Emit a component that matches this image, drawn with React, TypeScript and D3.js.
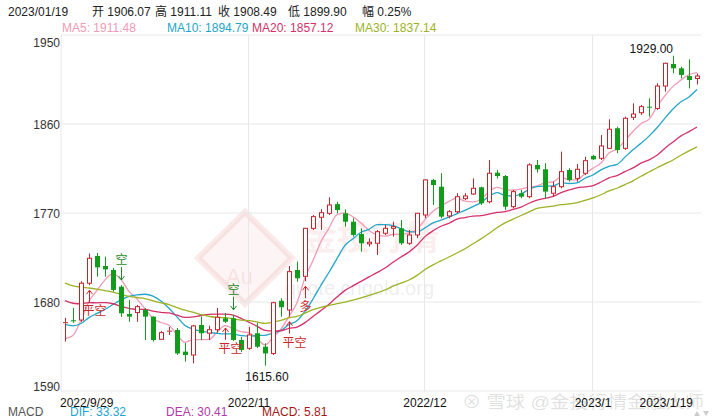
import React from "react";
import * as d3 from "d3";

// ---------- data ----------
// closes before 2022/9/29 (needed for moving averages)
const priorCloses = [
  1747, 1736, 1748, 1751, 1758, 1737, 1738, 1723, 1711,
  1697, 1712, 1710, 1702, 1718, 1708, 1716, 1724, 1702, 1697,
  1665, 1675, 1675, 1664, 1673, 1671, 1644, 1622, 1629, 1660,
];

const opens = [
  1658.6, 1661.5, 1661.8, 1699.0, 1726.5, 1716.4, 1712.4, 1695.5, 1667.9, 1669.3,
  1672.0, 1665.2, 1642.3, 1650.0, 1651.7, 1629.8, 1626.4, 1656.8, 1648.5, 1652.0,
  1663.5, 1663.5, 1641.6, 1633.2, 1648.4, 1634.8, 1628.0, 1681.3, 1671.9, 1712.4,
  1706.0, 1754.5, 1765.7, 1769.7, 1779.0, 1769.7, 1761.2, 1748.8, 1738.8, 1739.4,
  1749.5, 1754.5, 1754.5, 1739.4, 1747.8, 1768.0, 1803.4, 1796.6, 1767.0, 1771.3,
  1784.5, 1789.2, 1796.0, 1781.4, 1810.8, 1807.4, 1776.4, 1790.0, 1786.5, 1818.6,
  1814.2, 1790.0, 1796.6, 1813.5, 1805.0, 1810.2, 1827.7, 1825.3, 1835.4, 1855.7,
  1835.4, 1866.8, 1871.4, 1877.5, 1875.8, 1898.4, 1920.7, 1916.3, 1908.5, 1906.07,
];
const highs = [
  1664.0, 1674.0, 1701.0, 1729.0, 1729.6, 1725.8, 1714.4, 1697.2, 1682.0, 1677.0,
  1673.7, 1665.5, 1650.7, 1654.7, 1653.7, 1638.6, 1656.8, 1665.2, 1656.0, 1674.0,
  1668.9, 1667.0, 1644.6, 1655.0, 1658.8, 1638.3, 1680.3, 1683.8, 1716.4, 1720.8,
  1755.0, 1768.0, 1773.8, 1785.9, 1781.4, 1773.8, 1764.6, 1754.5, 1744.4, 1752.8,
  1757.9, 1761.2, 1762.9, 1752.8, 1770.0, 1804.0, 1804.5, 1810.2, 1773.0, 1790.0,
  1790.0, 1805.0, 1796.6, 1823.6, 1813.5, 1808.4, 1793.3, 1793.3, 1820.3, 1823.6,
  1820.3, 1801.7, 1832.0, 1815.2, 1819.6, 1826.9, 1828.7, 1848.9, 1864.8, 1857.3,
  1867.4, 1880.9, 1879.2, 1886.0, 1901.2, 1922.0, 1929.0, 1918.0, 1925.4, 1911.11,
];
const lows = [
  1640.0, 1659.0, 1660.0, 1697.0, 1705.6, 1705.6, 1690.5, 1665.0, 1660.0, 1660.0,
  1641.6, 1639.9, 1641.6, 1646.7, 1626.4, 1619.7, 1618.0, 1641.6, 1641.5, 1649.0,
  1658.8, 1640.6, 1629.5, 1631.5, 1633.5, 1615.6, 1626.4, 1665.2, 1665.2, 1700.5,
  1701.0, 1752.8, 1752.8, 1768.0, 1769.7, 1756.2, 1746.1, 1730.9, 1736.0, 1727.6,
  1747.8, 1746.1, 1737.7, 1737.7, 1744.7, 1765.0, 1778.1, 1764.6, 1764.6, 1769.7,
  1783.2, 1788.2, 1778.1, 1779.8, 1805.0, 1773.0, 1774.7, 1784.9, 1784.9, 1810.8,
  1784.9, 1786.5, 1795.0, 1801.7, 1801.7, 1808.4, 1823.6, 1823.6, 1835.0, 1830.4,
  1833.7, 1864.0, 1869.1, 1867.4, 1874.2, 1892.7, 1911.3, 1906.2, 1896.0, 1899.9,
];
const closes = [
  1659.6, 1660.5, 1699.0, 1724.2, 1715.0, 1713.0, 1692.2, 1668.6, 1665.2, 1675.3,
  1665.2, 1641.6, 1649.0, 1651.0, 1628.0, 1626.4, 1655.8, 1648.4, 1652.0, 1664.5,
  1660.0, 1641.6, 1631.5, 1646.7, 1634.8, 1628.0, 1679.3, 1674.7, 1710.7, 1704.0,
  1754.5, 1766.3, 1770.3, 1778.1, 1773.0, 1761.2, 1747.8, 1739.4, 1740.4, 1751.1,
  1754.5, 1756.2, 1739.4, 1747.8, 1769.7, 1803.4, 1798.3, 1766.3, 1771.3, 1786.5,
  1787.2, 1795.0, 1779.8, 1810.2, 1807.4, 1776.4, 1791.6, 1786.5, 1818.6, 1814.2,
  1791.6, 1796.6, 1811.8, 1803.4, 1814.2, 1822.9, 1824.3, 1837.8, 1854.7, 1833.7,
  1865.8, 1870.1, 1877.5, 1876.5, 1898.4, 1921.4, 1916.3, 1909.6, 1904.5, 1908.49,
];

const xTickLabels = ["2022/9/29", "2022/11", "2022/12", "2023/1", "2023/1/19"];
const xTickIndex = [0, 23, 45, 66, 79];
const yTicks = [1950, 1860, 1770, 1680, 1590];

const maPeriods = [5, 10, 20, 30];
const maNames = ["MA5", "MA10", "MA20", "MA30"];
const maColors = ["#f09ab6", "#22a6c8", "#d4306a", "#9cb224"];
const maLabelValues = ["1911.48", "1894.79", "1857.12", "1837.14"];

const headerLabels = ["2023/01/19", "开 1906.07", "高 1911.11", "收 1908.49", "低 1899.90", "幅 0.25%"];
const macdLabels = ["MACD", "DIF: 33.32", "DEA: 30.41", "MACD: 5.81"];

// annotations
const annotIndex = [3, 7, 20, 21, 28, 30];
const annotText = ["平空", "空", "平空", "空", "平空", "多"];
const annotKind = ["below", "above", "below", "above", "below", "below"];

// ---------- layout ----------
const W = 720;
const H = 420;
const left = 61;
const right = 701;
const top = 35;
const bottom = 391;
const FONT = "'Liberation Sans', Arial, 'Noto Sans CJK SC', sans-serif";
const UP = "#c0252b";
const DOWN = "#139b1b";

export default function App() {
  const N = closes.length;
  const x = d3.scaleBand<number>().domain(d3.range(N)).range([left, right]);
  const cx = (i: number) => (x(i) as number) + x.bandwidth() / 2;
  const y = d3.scaleLinear().domain([1590, 1950]).range([bottom, top]);

  const all = [...priorCloses, ...closes];
  const P = priorCloses.length;
  const mas = maPeriods.map((n) =>
    closes.map((_, i) => d3.mean(all.slice(P + i - n + 1, P + i + 1)) as number)
  );
  const line = d3
    .line<number>()
    .x((_, i) => cx(i))
    .y((v) => y(v))
    .curve(d3.curveMonotoneX);

  const bw = 5;

  const maX = [62, 167, 252, 355];
  const headX = [8, 92, 155, 218, 288, 362];
  const macdX = [8, 70, 166, 262];
  const macdColors = ["#555555", "#1ea4d0", "#b03aa8", "#a51515"];

  const hiIdx = d3.maxIndex(highs);
  const loIdx = d3.minIndex(lows);

  return (
    <svg width={W} height={H} style={{ display: "block", position: "absolute", left: 0, top: 0, background: "#fff" }} fontFamily={FONT}>
      <rect x={0} y={0} width={W} height={H} fill="#fff" />

      {/* watermark */}
      <g>
        <polygon points="245,212 292,258 245,304 198,258" fill="rgba(225,110,110,0.07)" stroke="rgba(215,90,90,0.13)" strokeWidth={6} />
        <text x={303} y={250} fontSize={34} fill="rgba(215,80,80,0.10)" fontWeight="bold">金投行情</text>
        <text x={226} y={284} fontSize={22} fill="rgba(215,80,80,0.12)">Au</text>
        <text x={285} y={295} fontSize={20} fill="rgba(140,140,140,0.16)">quote.cngold.org</text>
      </g>

      {/* grid */}
      {yTicks.map((t) => (
        <line key={"gy" + t} x1={left} x2={right} y1={y(t)} y2={y(t)} stroke="#e8e8e8" strokeWidth={1} />
      ))}
      <line x1={left} x2={left} y1={top} y2={bottom} stroke="#e8e8e8" />
      {xTickIndex.slice(1, -1).map((i) => (
        <line key={"gx" + i} x1={cx(i) - 0.5} x2={cx(i) - 0.5} y1={top} y2={bottom} stroke="#e8e8e8" />
      ))}

      {/* y labels */}
      {yTicks.map((t, k) => {
        const off = k === 0 ? 12 : k === yTicks.length - 1 ? -0.5 : 4.5;
        return (
          <text key={"yl" + t} x={60} y={y(t) + off} textAnchor="end" fontSize={12} fill="#333">
            {t}
          </text>
        );
      })}

      {/* MA lines */}
      {mas.map((m, k) => (
        <path key={"ma" + k} d={line(m) as string} fill="none" stroke={maColors[k]} strokeWidth={1.3} />
      ))}

      {/* candles */}
      {closes.map((c, i) => {
        const o = opens[i];
        const up = c >= o;
        const X = Math.round(cx(i));
        const yTop = y(Math.max(o, c));
        const yBot = y(Math.min(o, c));
        const h = Math.max(1, yBot - yTop);
        if (up) {
          return (
            <g key={"c" + i}>
              <line x1={X + 0.5} x2={X + 0.5} y1={y(highs[i])} y2={yTop} stroke={UP} />
              <line x1={X + 0.5} x2={X + 0.5} y1={yTop + h} y2={y(lows[i])} stroke={UP} />
              {h <= 1.5 ? (
                <line x1={X - 2} x2={X + 3} y1={yTop + 0.5} y2={yTop + 0.5} stroke={UP} />
              ) : (
                <rect x={X - bw / 2 + 1} y={yTop} width={bw - 1} height={h} fill="#fff" stroke={UP} strokeWidth={1} />
              )}
            </g>
          );
        }
        return (
          <g key={"c" + i}>
            <line x1={X + 0.5} x2={X + 0.5} y1={y(highs[i])} y2={y(lows[i])} stroke={DOWN} />
            <rect x={X - bw / 2 + 0.5} y={yTop} width={bw} height={h} fill={DOWN} />
          </g>
        );
      })}

      {/* annotations */}
      {annotIndex.map((i, k) => {
        const X = Math.round(cx(i)) + 0.5;
        const below = annotKind[k] === "below";
        const col = below ? "#c8282d" : "#1f8a2a";
        if (below) {
          const tip = y(lows[i]) + 5;
          const base = tip + 12;
          return (
            <g key={"a" + k}>
              <line x1={X} x2={X} y1={tip} y2={base} stroke={col} />
              <path d={`M${X - 3},${tip + 4} L${X},${tip} L${X + 3},${tip + 4}`} fill="none" stroke={col} />
              <text x={X + (annotText[k].length > 1 ? 5 : 0)} y={tip + 25} textAnchor="middle" fontSize={12} fill={col}>
                {annotText[k]}
              </text>
            </g>
          );
        }
        const tip = y(highs[i]) - 5;
        const base = tip - 13;
        return (
          <g key={"a" + k}>
            <line x1={X} x2={X} y1={base} y2={tip} stroke={col} />
            <path d={`M${X - 3},${tip - 4} L${X},${tip} L${X + 3},${tip - 4}`} fill="none" stroke={col} />
            <text x={X} y={base - 3} textAnchor="middle" fontSize={12} fill={col}>
              {annotText[k]}
            </text>
          </g>
        );
      })}

      {/* extreme labels */}
      <text x={cx(hiIdx)} y={y(highs[hiIdx]) - 3} textAnchor="end" fontSize={12} fill="#111">
        {highs[hiIdx].toFixed(2)}
      </text>
      <text x={cx(loIdx) + 2} y={y(lows[loIdx]) + 15} textAnchor="middle" fontSize={12} fill="#111">
        {lows[loIdx].toFixed(2)}
      </text>

      {/* header */}
      {headerLabels.map((t, k) => (
        <text key={"h" + k} x={headX[k]} y={16} fontSize={12} fill="#222">
          {t}
        </text>
      ))}
      {maNames.map((n, k) => (
        <text key={"ml" + k} x={maX[k]} y={31.5} fontSize={12} fill={maColors[k]}>
          {n}: {maLabelValues[k]}
        </text>
      ))}

      {/* watermark bottom right */}
      <text x={462} y={408} fontSize={17} textLength={242} lengthAdjust="spacingAndGlyphs" fill="rgba(160,160,160,0.32)">
        ⊗ 雪球 @金投行情金融大师
      </text>

      {/* x labels */}
      {xTickIndex.map((i, k) => {
        const anchor = k === 0 ? "start" : k === xTickIndex.length - 1 ? "end" : "middle";
        const xx = k === 0 ? 60 : k === xTickIndex.length - 1 ? 693 : cx(i);
        return (
          <text key={"xl" + k} x={xx} y={406.5} textAnchor={anchor} fontSize={12} fill="#111">
            {xTickLabels[k]}
          </text>
        );
      })}

      {/* MACD row */}
      {macdLabels.map((t, k) => (
        <text key={"md" + k} x={macdX[k]} y={415.5} fontSize={12} fill={macdColors[k]}>
          {t}
        </text>
      ))}

      {/* small arrows bottom right */}
      <path d="M694,416 L697,411 L700,416 Z" fill="#ccc" />
      <path d="M703,411 L709,411 L706,416 Z" fill="#ccc" />
    </svg>
  );
}
